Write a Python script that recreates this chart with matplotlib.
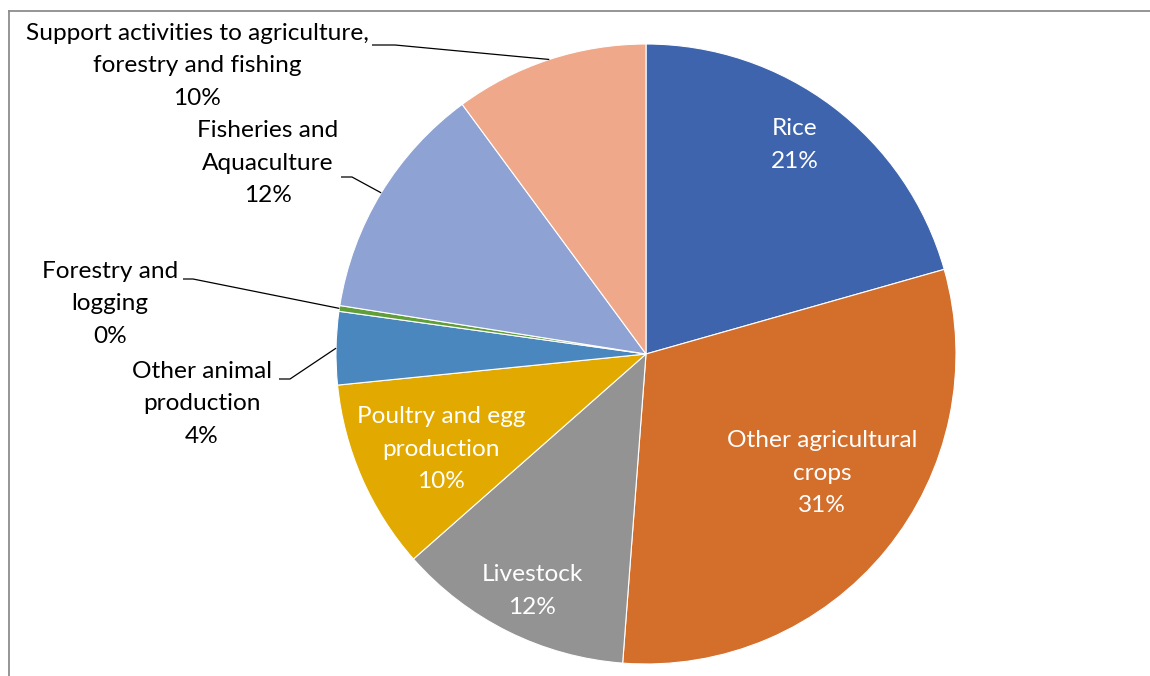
import numpy as np
import matplotlib
matplotlib.use('Agg')
import matplotlib.pyplot as plt
from matplotlib.lines import Line2D

# share of agriculture, forestry and fishing output (%), clockwise from top
sectors = ['Rice', 'Other agricultural\ncrops', 'Livestock',
           'Poultry and egg\nproduction', 'Other animal\nproduction',
           'Forestry and\nlogging', 'Fisheries and\nAquaculture',
           'Support activities to agriculture,\nforestry and fishing']
shares = [20.6, 30.6, 12.3, 9.9, 3.8, 0.3, 12.4, 10.1]
colors = ['#3E64AD', '#D46E2B', '#939393', '#E2A900', '#4A87BE',
          '#609E3A', '#8FA2D4', '#F0A88A']

W, H = 1150, 676
cx, cy, r = 646, H - 354, 310

plt.rcParams['font.family'] = ['Lato', 'DejaVu Sans']
fig = plt.figure(figsize=(W / 100, H / 100), dpi=100)
ax = fig.add_axes([0, 0, 1, 1])

ax.pie(shares, colors=colors, startangle=90, counterclock=False,
       center=(cx, cy), radius=r,
       wedgeprops=dict(edgecolor='white', linewidth=0.8))
ax.set_xlim(0, W)
ax.set_ylim(0, H)
ax.set_aspect('equal')
ax.axis('off')

total = sum(shares)
cum = np.cumsum([0] + shares)
mid = (cum[:-1] + cum[1:]) / 2 / total


def edge_point(i):
    a = np.deg2rad(90 - 360 * mid[i])
    return cx + r * np.cos(a), cy + r * np.sin(a)


def lab(i):
    return f'{sectors[i]}\n{round(shares[i] / total * 100):.0f}%'


fs = 17.6
ls = 1.68
# labels inside slices (image pixel positions, y from top)
inside = {0: (795, 145), 1: (822, 473), 2: (532, 591), 3: (441, 449)}
for i, (x, y) in inside.items():
    ax.text(x, H - y, lab(i), ha='center', va='center', fontsize=fs,
            color='white', linespacing=ls)

# labels outside with leader lines: text centre, leader start, elbow
outside = {7: ((197, 66), (372, 45), (395, 45)),
           6: ((268, 163), (341, 177), (352, 177)),
           5: ((110, 304), (183, 279), (193, 279)),
           4: ((202, 404), (279, 379), (290, 379))}
for i, (tpos, p0, p1) in outside.items():
    ax.text(tpos[0], H - tpos[1], lab(i), ha='center', va='center',
            fontsize=fs, color='black', linespacing=ls)
    ex, ey = edge_point(i)
    ax.plot([p0[0], p1[0], ex], [H - p0[1], H - p1[1], ey],
            color='black', lw=0.9, solid_capstyle='butt')

# chart frame
fig.add_artist(Line2D([9 / W, 1], [1 - 11 / H, 1 - 11 / H],
                      color='#8c8c8c', lw=1.3))
fig.add_artist(Line2D([9 / W, 9 / W], [0, 1 - 11 / H],
                      color='#8c8c8c', lw=1.3))

fig.savefig('out.png', dpi=100)
